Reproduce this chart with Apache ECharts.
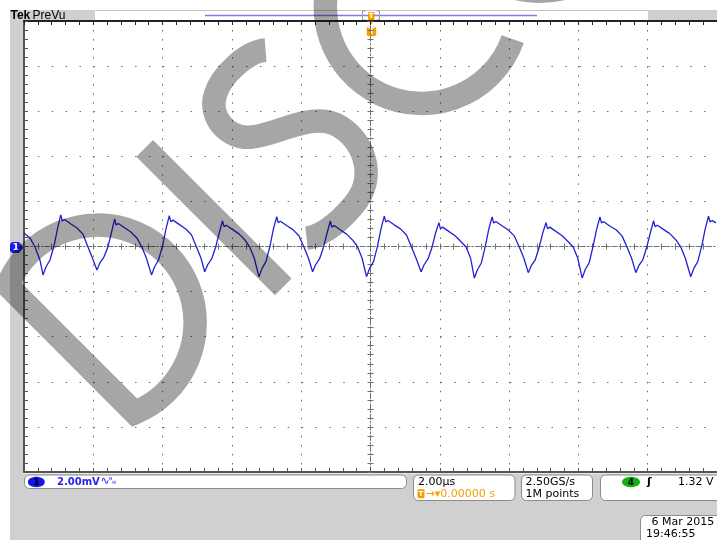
<!DOCTYPE html>
<html>
<head>
<meta charset="utf-8">
<script src="https://cdn.jsdelivr.net/npm/echarts@6/dist/echarts.min.js"></script>
<style>html,body{margin:0;padding:0;background:#fff}#c{width:717px;height:540px}</style>
</head>
<body>
<div id="c"></div>
<script>
// ---- data (time in µs, channel 1 in mV) ----
const timePerDivUs = 2;      // 2.00 µs/div, 10 divisions
const voltsPerDivMv = 2;     // 2.00 mV/div, 10 divisions
const timeUs = [
-10.000, -9.827, -9.683, -9.539,
-9.452, -9.366, -9.250, -9.135, -9.034, -8.939, -8.896, -8.832, -8.645, -8.472, -8.299, -8.155, -8.025,
-7.896, -7.810, -7.694, -7.579, -7.478, -7.383, -7.340, -7.276, -7.089, -6.916, -6.743, -6.599, -6.469,
-6.320, -6.234, -6.118, -6.003, -5.902, -5.807, -5.764, -5.700, -5.513, -5.340, -5.167, -5.023, -4.893,
-4.784, -4.698, -4.582, -4.467, -4.366, -4.271, -4.228, -4.164, -3.977, -3.804, -3.631, -3.487, -3.357,
-3.219, -3.133, -3.017, -2.902, -2.801, -2.706, -2.663, -2.599, -2.412, -2.239, -2.066, -1.922, -1.792,
-1.671, -1.585, -1.469, -1.354, -1.253, -1.158, -1.115, -1.051, -0.864, -0.691, -0.518, -0.374, -0.244,
-0.115, -0.029, 0.087, 0.202, 0.303, 0.398, 0.441, 0.505, 0.692, 0.865, 1.038, 1.182, 1.312,
1.461, 1.547, 1.663, 1.778, 1.879, 1.974, 2.017, 2.081, 2.268, 2.441, 2.614, 2.758, 2.888,
2.997, 3.083, 3.199, 3.314, 3.415, 3.510, 3.553, 3.617, 3.804, 3.977, 4.150, 4.294, 4.424,
4.553, 4.639, 4.755, 4.870, 4.971, 5.066, 5.109, 5.173, 5.360, 5.533, 5.706, 5.850, 5.980,
6.109, 6.195, 6.311, 6.426, 6.527, 6.622, 6.665, 6.729, 6.916, 7.089, 7.262, 7.406, 7.536,
7.657, 7.743, 7.859, 7.974, 8.075, 8.170, 8.213, 8.277, 8.464, 8.637, 8.810, 8.954, 9.084,
9.242, 9.328, 9.444, 9.559, 9.660, 9.755, 9.798, 9.862, 9.971
];
const ch1mV = [
0.60, 0.38, -0.02, -0.60,
-1.26, -0.91, -0.60, 0.02, 0.78, 1.40, 1.13, 1.20, 1.00, 0.82, 0.55, -0.02, -0.51,
-1.04, -0.73, -0.47, -0.02, 0.60, 1.22, 0.95, 1.02, 0.82, 0.64, 0.38, -0.02, -0.51,
-1.26, -0.91, -0.60, 0.02, 0.78, 1.37, 1.10, 1.17, 0.97, 0.79, 0.52, -0.02, -0.51,
-1.12, -0.81, -0.54, -0.02, 0.60, 1.14, 0.88, 0.94, 0.75, 0.57, 0.30, -0.02, -0.51,
-1.34, -0.98, -0.67, 0.02, 0.78, 1.32, 1.06, 1.12, 0.92, 0.75, 0.48, -0.02, -0.51,
-1.12, -0.81, -0.54, -0.02, 0.60, 1.13, 0.86, 0.93, 0.73, 0.55, 0.29, -0.02, -0.51,
-1.34, -0.98, -0.67, 0.02, 0.78, 1.35, 1.09, 1.15, 0.95, 0.78, 0.51, -0.02, -0.51,
-1.12, -0.81, -0.54, -0.02, 0.60, 1.06, 0.79, 0.86, 0.66, 0.48, 0.21, -0.02, -0.51,
-1.40, -1.04, -0.73, 0.02, 0.78, 1.31, 1.04, 1.11, 0.91, 0.73, 0.47, -0.02, -0.51,
-1.16, -0.85, -0.59, -0.02, 0.60, 1.06, 0.79, 0.86, 0.66, 0.48, 0.21, -0.02, -0.51,
-1.40, -1.03, -0.72, 0.03, 0.77, 1.31, 1.05, 1.10, 0.90, 0.74, 0.46, -0.03, -0.52,
-1.16, -0.85, -0.59, -0.02, 0.60, 1.14, 0.88, 0.94, 0.75, 0.57, 0.30, -0.02, -0.51,
-1.34, -0.98, -0.67, 0.02, 0.78, 1.35, 1.09, 1.15, 1.05
];
const readoutTexts = {
  ch1Scale: '2.00mV', timeScale: '2.00\u00b5s', trigPos: '\u2192\u25be0.00000 s',
  sampleRate: '2.50GS/s', recordLen: '1M points', trigCh: '4', trigLevel: '1.32 V',
  date: '6 Mar 2015', time: '19:46:55'
};
const watermarkPaths = [
  'M0,0 L0,180 A97.5 97.5 0 1 0 0,0 Z',                         // D
  'M194,0 L194,196',                                           // I
  'M349,16 C335,4 300,2 282,12 C262,22 258,52 278,68 C298,84 336,92 346,118 C356,146 340,186 300,188 C275,190 255,186 245,178', // S
  'M531.5,8.9 A96.5 96.5 0 1 0 531.5,183.1',                   // C
  'M650,-4 A95 100 0 1 0 650.1,-4'                             // O (mostly off-screen)
];

// ---- chart ----
const chart = echarts.init(document.getElementById('c'), null, {renderer: 'canvas'});
const F = '"DejaVu Sans", sans-serif';
const PANEL = '#d0d0d0', BOXLINE = '#8c8c8c', ORANGE = '#f5a000';
const hidden = {show: false};
function borderAxis(pos, color) {
  return {
    type: 'value', min: -5 * timePerDivUs, max: 5 * timePerDivUs, interval: timePerDivUs, position: pos,
    axisLine: {show: true, onZero: false, lineStyle: {color: color, width: 2}},
    axisTick: {show: true, inside: true, length: 4, lineStyle: {color: color}},
    minorTick: {show: true, splitNumber: 5, length: 4, lineStyle: {color: color}},
    axisLabel: hidden, splitLine: hidden
  };
}
function centerX(inside, line) {
  return {
    type: 'value', min: -5 * timePerDivUs, max: 5 * timePerDivUs, interval: timePerDivUs, position: 'bottom',
    axisLine: {show: line, onZero: true, onZeroAxisIndex: 0, lineStyle: {color: '#707070', width: 1, type: [5, 2, 1.5, 2]}},
    axisTick: {show: true, inside: inside, length: 3, lineStyle: {color: '#707070'}},
    minorTick: {show: true, splitNumber: 5, length: 3, lineStyle: {color: '#707070'}},
    axisLabel: hidden, splitLine: hidden
  };
}
function centerY(inside, line) {
  return {
    type: 'value', min: -5 * voltsPerDivMv, max: 5 * voltsPerDivMv, interval: voltsPerDivMv, position: 'left',
    axisLine: {show: line, onZero: true, onZeroAxisIndex: 0, lineStyle: {color: '#707070', width: 1, type: [5, 2, 1.5, 2]}},
    axisTick: {show: true, inside: inside, length: 3, lineStyle: {color: '#707070'}},
    minorTick: {show: true, splitNumber: 5, length: 3, lineStyle: {color: '#707070'}},
    axisLabel: hidden, splitLine: hidden
  };
}
const xBottom = borderAxis('bottom', '#555');
xBottom.splitLine = {show: true, lineStyle: {color: '#6a6a6a', width: 1, type: [1.5, 7.52]}};
const yLeft = {
  type: 'value', min: -5 * voltsPerDivMv, max: 5 * voltsPerDivMv, interval: voltsPerDivMv, position: 'left',
  axisLine: {show: true, onZero: false, lineStyle: {color: '#555', width: 2}},
  axisTick: {show: true, inside: true, length: 4, lineStyle: {color: '#555'}},
  minorTick: {show: true, splitNumber: 5, length: 4, lineStyle: {color: '#555'}},
  axisLabel: hidden,
  splitLine: {show: true, lineStyle: {color: '#6a6a6a', width: 1, type: [1.5, 12.38]}}
};

function txt(x, y, text, font, fill, align) {
  return {type: 'text', x: x, y: y, style: {text: text, font: font, fill: fill || '#000', align: align || 'left', verticalAlign: 'middle'}};
}
function box(x, y, w, h) {
  return {type: 'rect', shape: {x: x, y: y, width: w, height: h, r: 5}, style: {fill: '#fff', stroke: BOXLINE, lineWidth: 1}};
}

const graphics = [
  // panels
  {type: 'rect', shape: {x: 10, y: 10, width: 13, height: 530}, style: {fill: PANEL}},
  {type: 'rect', shape: {x: 10, y: 10, width: 85, height: 10.5}, style: {fill: PANEL}},
  {type: 'rect', shape: {x: 648, y: 10, width: 69, height: 10.5}, style: {fill: PANEL}},
  {type: 'rect', shape: {x: 10, y: 473.5, width: 707, height: 66.5}, style: {fill: PANEL}},
  {type: 'line', shape: {x1: 95, y1: 10.5, x2: 648, y2: 10.5}, style: {stroke: '#c4c4c4', lineWidth: 1}},
  {type: 'line', shape: {x1: 205, y1: 15.5, x2: 537, y2: 15.5}, style: {stroke: '#7b7bf0', lineWidth: 1.5}},
  // trigger bracket + markers
  {type: 'polyline', shape: {points: [[365.5, 11], [362.5, 11], [362.5, 20], [365.5, 20]]}, style: {stroke: '#9a9a9a', lineWidth: 1, fill: 'none'}},
  {type: 'polyline', shape: {points: [[376.5, 11], [379.5, 11], [379.5, 20], [376.5, 20]]}, style: {stroke: '#9a9a9a', lineWidth: 1, fill: 'none'}},
  {type: 'rect', shape: {x: 368, y: 12, width: 6.5, height: 8, r: 1}, style: {fill: ORANGE}},
  txt(371.2, 16.2, 'T', 'bold 7px ' + F, '#fff', 'center'),
  {type: 'polygon', shape: {points: [[367.5, 19.5], [374.8, 19.5], [371.2, 24.5]]}, style: {fill: ORANGE}},
  {type: 'rect', shape: {x: 366.7, y: 26.7, width: 9.5, height: 9.5, r: 2}, style: {fill: ORANGE}},
  txt(371.5, 31.6, 'T', 'bold 9px ' + F, '#fff', 'center'),
  // top-left label
  txt(10.5, 15.8, 'Tek', 'bold 12px "Liberation Sans", sans-serif', '#000'),
  txt(32.5, 15.3, 'PreVu', '12px "Liberation Sans", sans-serif', '#000'),
  // channel 1 ground marker
  {type: 'polygon', shape: {points: [[12, 242.5], [19, 242.5], [23, 247.5], [19, 252.5], [12, 252.5], [10.5, 251], [10.5, 244]]}, style: {fill: '#1a1aff', stroke: '#0a0a9a', lineWidth: 0.8}},
  txt(15.8, 247.8, '1', 'bold 9px ' + F, '#fff', 'center'),
  // readout boxes
  box(24.5, 475, 382, 13.5),
  {type: 'ellipse', shape: {cx: 36.3, cy: 482, rx: 8.5, ry: 5.2}, style: {fill: '#1515e8'}},
  txt(36.3, 482.4, '1', 'bold 9px ' + F, '#000', 'center'),
  txt(57, 482.2, readoutTexts.ch1Scale, 'bold 10px ' + F, '#2626e8'),
  txt(100.5, 481.5, '\u223f', '11px ' + F, '#2626e8'),
  txt(109, 480.5, '\u1d2e', '8px ' + F, '#2626e8'),
  txt(112, 484, '\u1d42', '7px ' + F, '#2626e8'),
  box(413.5, 475, 101.5, 25.5),
  txt(418, 481.8, readoutTexts.timeScale, '11px ' + F, '#000'),
  {type: 'rect', shape: {x: 417.5, y: 489.2, width: 7, height: 9, r: 1}, style: {fill: ORANGE}},
  txt(421, 494, 'T', 'bold 7px ' + F, '#fff', 'center'),
  txt(425.5, 493.8, readoutTexts.trigPos, '11px ' + F, ORANGE),
  box(521.5, 475, 71, 25.5),
  txt(525.5, 481.8, readoutTexts.sampleRate, '11px ' + F, '#000'),
  txt(525.5, 493.8, readoutTexts.recordLen, '11px ' + F, '#000'),
  box(600.5, 475, 125, 25.5),
  {type: 'ellipse', shape: {cx: 631, cy: 482, rx: 9, ry: 5.2}, style: {fill: '#12b012'}},
  txt(631, 482.4, readoutTexts.trigCh, 'bold 9px ' + F, '#000', 'center'),
  txt(647, 482, '\u0283', 'bold 11px ' + F, '#000'),
  txt(713.5, 482, readoutTexts.trigLevel, '11px ' + F, '#000', 'right'),
  box(640.5, 515.5, 90, 30),
  txt(651.5, 522.2, readoutTexts.date, '11px ' + F, '#000'),
  txt(646, 534.5, readoutTexts.time, '11px ' + F, '#000')
];

chart.setOption({
  animation: false,
  backgroundColor: '#ffffff',
  grid: {left: 24, top: 21, width: 694, height: 451, containLabel: false},
  xAxis: [xBottom, borderAxis('top', '#222'), centerX(true, true), centerX(false, false)],
  yAxis: [yLeft, centerY(true, true), centerY(false, false)],
  graphic: {elements: graphics},
  series: [
    {
      type: 'line', xAxisIndex: 0, yAxisIndex: 0,
      data: timeUs.map((t, i) => [t, ch1mV[i]]),
      showSymbol: false, symbol: 'none', smooth: false, z: 5,
      lineStyle: {color: '#2222d4', width: 1.3}
    },
    {
      type: 'custom', coordinateSystem: 'none', data: [[0]], z: 100, silent: true,
      renderItem: function () {
        return {
          type: 'group', x: 7.5, y: 285.5, rotation: Math.PI / 4,
          children: watermarkPaths.map(d => ({
            type: 'path', shape: {pathData: d},
            style: {fill: 'none', stroke: 'rgba(0,0,0,0.35)', lineWidth: 23.5, lineJoin: 'miter', lineCap: 'butt'}
          }))
        };
      }
    }
  ]
});
</script>
</body>
</html>
